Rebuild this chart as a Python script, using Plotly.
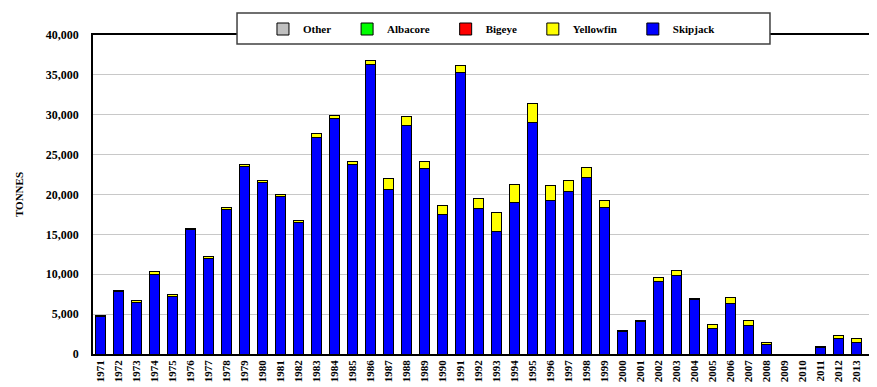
import plotly.graph_objects as go

# catch by species, tonnes
years = [str(y) for y in range(1971, 2015)]

skipjack = [4700, 7850, 6500, 10000, 7250, 15550, 12000, 18150, 23550, 21500,
            19700, 16500, 27100, 29550, 23800, 36250, 20650, 28600, 23300, 17550,
            35300, 18250, 15400, 19000, 29000, 19300, 20350, 22150, 18400, 2800,
            4050, 9150, 9900, 6800, 3150, 6300, 3600, 1250, 0, 0,
            850, 1950, 1500, 750]
yellowfin = [100, 150, 150, 350, 150, 200, 200, 200, 250, 250,
             250, 250, 600, 400, 300, 600, 1400, 1150, 800, 1050,
             900, 1250, 2400, 2250, 2400, 1800, 1400, 1250, 900, 100,
             150, 450, 600, 150, 500, 800, 650, 150, 0, 0,
             150, 350, 400, 80]
bigeye = [0] * len(years)
albacore = [0] * len(years)
other = [0] * len(years)

yticks = [0, 5000, 10000, 15000, 20000, 25000, 30000, 35000, 40000]

font = "Liberation Serif"
pad = '\u00a0' * 4  # widen legend entries a little

fig = go.Figure()

# stacked from the bottom up: skipjack first
series = [
    ('Skipjack', skipjack, '#0000FF'),
    ('Yellowfin' + pad, yellowfin, '#FFFF00'),
    ('Bigeye' + pad, bigeye, '#FF0000'),
    ('Albacore' + pad, albacore, '#00FF00'),
    ('Other' + pad, other, '#C0C0C0'),
]
for name, vals, col in series:
    fig.add_trace(go.Bar(x=years, y=vals, name=name,
                         marker=dict(color=col, line=dict(color='#000000', width=1))))

# legend frame drawn as a shape so it can be wider than the entries
fig.add_shape(type='rect', xref='paper', yref='paper',
              x0=0.1837, x1=0.8635, y0=0.9718, y1=1.069,
              fillcolor='white', line=dict(color='#404040', width=1.5),
              layer='above')

# page body has an 8px margin, so the figure is a bit smaller than the window
fig.update_layout(
    width=869, height=379,
    margin=dict(l=85, r=0, t=27, b=33, autoexpand=False),
    barmode='stack',
    bargap=0.45,
    plot_bgcolor='white',
    paper_bgcolor='white',
    font=dict(family=font, size=11, color='#000000'),
    legend=dict(orientation='h', traceorder='reversed',
                x=0.2168, y=1.0188, xanchor='left', yanchor='middle',
                bgcolor='rgba(0,0,0,0)', borderwidth=0,
                font=dict(family=font, size=11, color='#000000', weight='bold')),
    xaxis=dict(
        type='category',
        range=[-0.44, 43.12],
        tickangle=-90,
        tickfont=dict(family=font, size=11, weight='bold'),
        showline=True, linecolor='#000000', linewidth=1.5, mirror=True,
        ticks='',
        showgrid=False,
        automargin=False,
    ),
    yaxis=dict(
        range=[0, 40000],
        tickvals=yticks,
        tickformat=',',
        tickfont=dict(family=font, size=12, weight='bold'),
        showline=True, linecolor='#000000', linewidth=1.5,
        gridcolor='#C8C8C8', gridwidth=1,
        ticks='', ticklabelstandoff=10,
        zeroline=False,
        automargin=False,
        title=dict(text='TONNES', standoff=20,
                   font=dict(family=font, size=11, weight='bold')),
    ),
)

fig.write_html("out.html")
